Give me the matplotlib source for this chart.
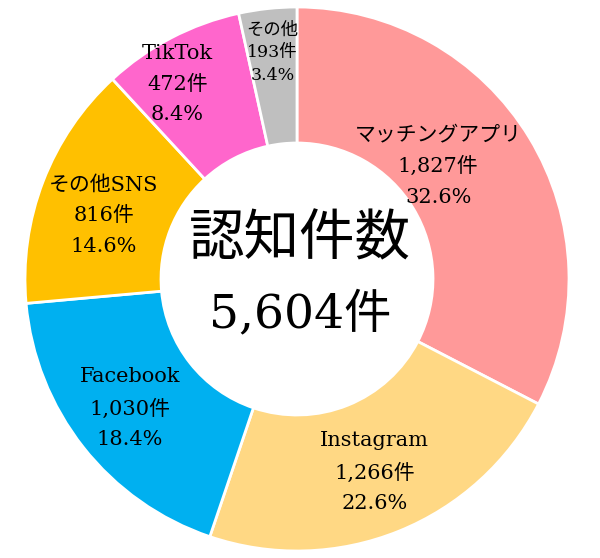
import numpy as np
import matplotlib.pyplot as plt

plt.rcParams['font.family'] = ['DejaVu Serif', 'Noto Sans CJK JP']

# data
categories = ['マッチングアプリ', 'Instagram', 'Facebook', 'その他SNS', 'TikTok', 'その他']
counts = [1827, 1266, 1030, 816, 472, 193]
percents = [32.6, 22.6, 18.4, 14.6, 8.4, 3.4]
colors = ['#FF9999', '#FFD884', '#00B0F0', '#FFC000', '#FF66CC', '#BFBFBF']

# label placement tweaks (radius, angle shift in degrees, font size, line spacing)
label_r = [0.665, 0.765, 0.776, 0.748, 0.84, 0.836]
label_shift = [7.4, 0, -0.5, 3, 4, 0]
label_size = [15, 15, 15, 15, 15, 12.5]
label_ls = [1.75, 1.75, 1.75, 1.75, 1.75, 1.45]

fig = plt.figure(figsize=(6, 5.58), dpi=100)
ax = fig.add_axes([0, 0, 1, 1])

wedges, _ = ax.pie(counts, colors=colors, startangle=90, counterclock=False,
                   radius=1.0,
                   wedgeprops=dict(width=0.5, edgecolor='white', linewidth=2))

for i, w in enumerate(wedges):
    ang = np.deg2rad((w.theta1 + w.theta2) / 2 + label_shift[i])
    x = label_r[i] * np.cos(ang)
    y = label_r[i] * np.sin(ang)
    ax.text(x, y, f'{categories[i]}\n{counts[i]:,}件\n{percents[i]}%',
            ha='center', va='center', fontsize=label_size[i],
            linespacing=label_ls[i])

# centre text
total = sum(counts)
ax.text(0.01, 0.145, '認知件数', ha='center', va='center', fontsize=40)
ax.text(0.01, -0.13, f'{total:,}件', ha='center', va='center', fontsize=34)

ax.set_aspect('equal')
ax.set_xlim(-297 / 272, 303 / 272)
ax.set_ylim(-279 / 272, 279 / 272)
ax.axis('off')

fig.savefig('out.png', dpi=100)
